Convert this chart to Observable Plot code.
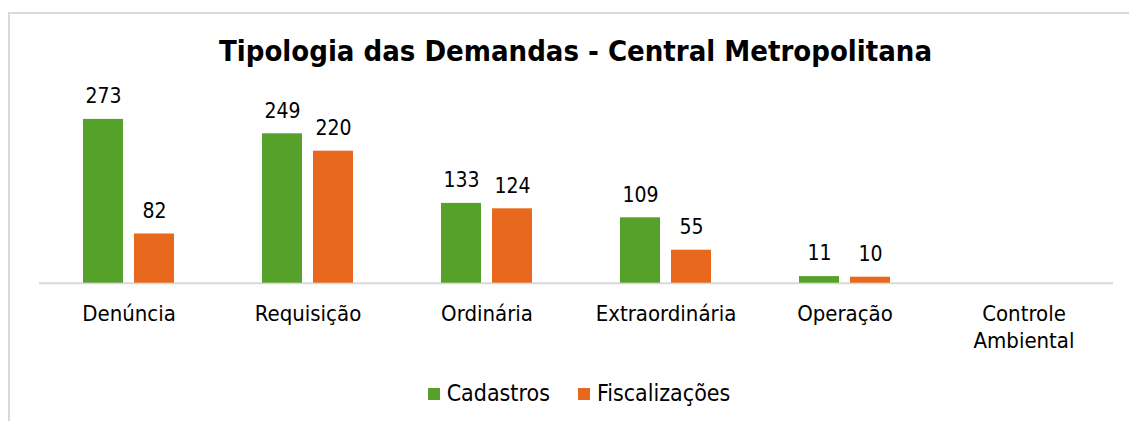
<!DOCTYPE html>
<html>
<head>
<meta charset="utf-8">
<script src="https://cdn.jsdelivr.net/npm/d3@7"></script>
<script src="https://cdn.jsdelivr.net/npm/@observablehq/plot@0.6"></script>
<style>
  html, body { margin: 0; padding: 0; background: #fff; }
  body { width: 1129px; height: 421px; overflow: hidden; position: relative;
         font-family: "DejaVu Sans Condensed", "DejaVu Sans", sans-serif; color: #000; }
  #frame { position: absolute; left: 8px; top: 12px; width: 1200px; height: 500px;
           border-top: 2px solid #d9d9d9; border-left: 2px solid #d9d9d9; box-sizing: border-box; }
  #title { position: absolute; left: 38px; width: 1075px; top: 37px; text-align: center;
           font-size: 29px; line-height: 29px; font-weight: bold; white-space: nowrap; }
  #chart { position: absolute; left: 0; top: 70px; }
  #legend { position: absolute; left: 38px; width: 1082px; top: 382px; display: flex;
            justify-content: center; font-size: 23px; line-height: 22px; }
  .item { display: flex; align-items: center; margin: 0 14px; }
  .sw { width: 12px; height: 12px; margin-right: 7px; position: relative; top: 1px; }
</style>
</head>
<body>
<div id="frame"></div>
<div id="title">Tipologia das Demandas - Central Metropolitana</div>
<div id="chart"></div>
<div id="legend"></div>
<script>
const categories = ["Denúncia", "Requisição", "Ordinária", "Extraordinária", "Operação", "Controle Ambiental"];
const tickLabels = ["Denúncia", "Requisição", "Ordinária", "Extraordinária", "Operação", "Controle\nAmbiental"];
const series = ["Cadastros", "Fiscalizações"];
const colors = ["#56a12a", "#e8681d"];
const cadastros = [273, 249, 133, 109, 11, null];
const fiscalizacoes = [82, 220, 124, 55, 10, null];

const rows = categories.flatMap((c, i) => [
  {cat: c, serie: series[0], v: cadastros[i]},
  {cat: c, serie: series[1], v: fiscalizacoes[i]}
]);

const chart = Plot.plot({
  width: 1129,
  height: 290,
  marginLeft: 38,
  marginRight: 16,
  marginTop: 32.7,
  marginBottom: 77.3,
  style: {fontFamily: '"DejaVu Sans Condensed", "DejaVu Sans", sans-serif', fontSize: "22px", color: "#000", background: "transparent"},
  fx: {domain: categories, padding: 0},
  x: {domain: series, paddingInner: 0.2157, paddingOuter: 0.8627, axis: null},
  y: {domain: [0, 300], axis: null},
  color: {domain: series, range: colors},
  marks: [
    Plot.ruleY([0], {stroke: "#d9d9d9", strokeWidth: 2}),
    Plot.barY(rows, {fx: "cat", x: "serie", y: "v", fill: "serie"}),
    Plot.text(rows, {fx: "cat", x: "serie", y: "v", text: d => d.v == null ? null : String(d.v), dy: -23, fontSize: 21, fill: "#000"}),
    Plot.axisFx({anchor: "bottom", tickSize: 0, tickPadding: 18, fontSize: 22, lineHeight: 1.25, label: null,
                 tickFormat: c => tickLabels[categories.indexOf(c)], fill: "#000"})
  ]
});
document.getElementById("chart").appendChild(chart);

const legend = document.getElementById("legend");
series.forEach((s, i) => {
  const item = document.createElement("div");
  item.className = "item";
  const sw = document.createElement("span");
  sw.className = "sw";
  sw.style.background = colors[i];
  const t = document.createElement("span");
  t.textContent = s;
  item.appendChild(sw);
  item.appendChild(t);
  legend.appendChild(item);
});
</script>
</body>
</html>
